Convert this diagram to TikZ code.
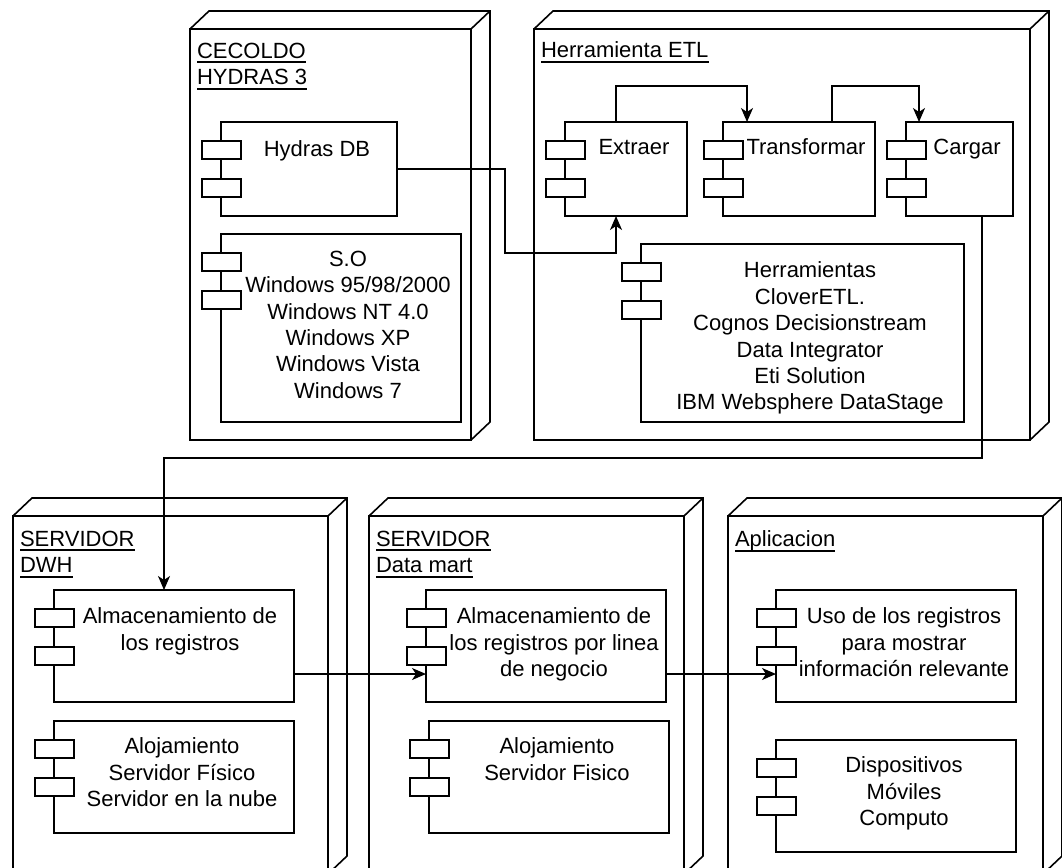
\documentclass[tikz,border=0pt]{standalone}
\usepackage{fontspec}
\setmainfont{Liberation Sans}
\usetikzlibrary{arrows.meta,calc}

% underlined label text with a fixed rule position
\newsavebox\ulbox
\newcommand\ulabel[1]{\sbox\ulbox{#1}\rlap{\rule[-5pt]{\wd\ulbox}{2pt}}\usebox\ulbox}

\tikzset{
  every node/.style={inner sep=0pt, outer sep=0pt},
  conn/.style={line width=1.6pt},
  arr/.style={conn, -{Stealth[length=14pt,width=12pt,inset=4pt]}},
  devbox/.style={draw, line width=1.6pt, fill=white, rectangle, anchor=north west},
  compbox/.style={draw, line width=1.6pt, fill=white, rectangle, anchor=north west},
  txt/.style={font=\fontsize{22}{26.4}\selectfont, align=center, anchor=north},
  lbl/.style={font=\fontsize{22}{26.4}\selectfont, align=left, anchor=north west},
}

% 3D deployment node: name, x1, y1, x2, y2 (front face)
\newcommand\devnode[5]{%
  \node[devbox, minimum width={(#4-#2)*1pt}, minimum height={(#5-#3)*1pt}] (#1) at (#2,#3) {};
  \draw[conn, line join=miter] (#1.north west) -- ++(19,-18) -- ++({#4-#2},0) -- ++(0,{#5-#3}) -- (#1.south east);
  \draw[conn] (#1.north east) -- ++(19,-18);
}

% UML component: name, x1, y1, x2, y2
\newcommand\comp[5]{%
  \node[compbox, minimum width={(#4-#2)*1pt}, minimum height={(#5-#3)*1pt}] (#1) at (#2,#3) {};
  \draw[conn, fill=white] ($(#1.north west)+(-19,19)$) rectangle ++(39,18);
  \draw[conn, fill=white] ($(#1.north west)+(-19,57)$) rectangle ++(39,18);
}

\begin{document}
\begin{tikzpicture}[x=1pt, y=-1pt]
\useasboundingbox (0,0) rectangle (1062,867);
\clip (0,0) rectangle (1062,867);

% deployment nodes
\devnode{cec}{190}{29}{471}{440}
\devnode{etl}{534}{29}{1030}{440}
\devnode{dwh}{13}{516}{328}{874}
\devnode{dm}{369}{516}{684}{874}
\devnode{app}{728}{516}{1043}{874}

% node titles
\node[lbl] (cecLbl) at (197,43) {\ulabel{CECOLDO}\\\ulabel{HYDRAS 3}};
\node[lbl] (etlLbl) at (541,42) {\ulabel{Herramienta ETL}};
\node[lbl] (dwhLbl) at (20,531) {\ulabel{SERVIDOR}\\\ulabel{DWH}};
\node[lbl] (dmLbl) at (376,531) {\ulabel{SERVIDOR}\\\ulabel{Data mart}};
\node[lbl] (appLbl) at (735,531) {\ulabel{Aplicacion}};

% components
\comp{hyd}{221}{122}{397}{216}
\comp{so}{221}{234}{461}{422}
\comp{ext}{565}{122}{687}{216}
\comp{trans}{723}{122}{875}{216}
\comp{carg}{906}{122}{1013}{216}
\comp{herr}{641}{244}{964}{422}
\comp{dwhA}{54}{590}{294}{702}
\comp{dwhB}{54}{721}{294}{833}
\comp{dmA}{426}{590}{666}{702}
\comp{dmB}{429}{721}{669}{833}
\comp{appA}{776}{590}{1016}{702}
\comp{appB}{776}{740}{1016}{852}

% component texts
\node[txt] (hydT) at (317,141) {Hydras DB};
\node[txt] (soT) at (348,251) {S.O\\Windows 95/98/2000\\Windows NT 4.0\\Windows XP\\Windows Vista\\Windows 7};
\node[txt] (extT) at (634,139) {Extraer};
\node[txt] (transT) at (806,139) {Transformar};
\node[txt] (cargT) at (967,139) {Cargar};
\node[txt] (herrT) at (810,262) {Herramientas\\CloverETL.\\Cognos Decisionstream\\Data Integrator\\Eti Solution\\IBM Websphere DataStage};
\node[txt] (dwhAT) at (180,608) {Almacenamiento de\\los registros};
\node[txt] (dwhBT) at (182,738) {Alojamiento\\Servidor Físico\\Servidor en la nube};
\node[txt] (dmAT) at (554,608) {Almacenamiento de\\los registros por linea\\de negocio};
\node[txt] (dmBT) at (557,738) {Alojamiento\\Servidor Fisico};
\node[txt] (appAT) at (904,608) {Uso de los registros\\para mostrar\\información relevante};
\node[txt] (appBT) at (904,757) {Dispositivos\\Móviles\\Computo};

% connectors
\draw[arr] (hyd.east) -| (505,253) -| ($(ext.south)+(-10,0)$);
\draw[arr] ($(ext.north)+(-10,0)$) -- ++(0,-36) -| ($(trans.north west)+(24,0)$);
\draw[arr] ($(trans.north west)+(109,0)$) -- ++(0,-36) -| ($(carg.north west)+(13,0)$);
\draw[arr] ($(carg.south west)+(76,0)$) |- ($(dwhA.north west)+(110,-132)$) -- ($(dwhA.north west)+(110,0)$);
\coordinate (c1) at ($(dwhA.south east)+(0,-28)$);
\coordinate (c2) at ($(dmA.south east)+(0,-28)$);
\draw[arr] (c1) -- (c1 -| dmA.west);
\draw[arr] (c2) -- (c2 -| appA.west);
\end{tikzpicture}
\end{document}
